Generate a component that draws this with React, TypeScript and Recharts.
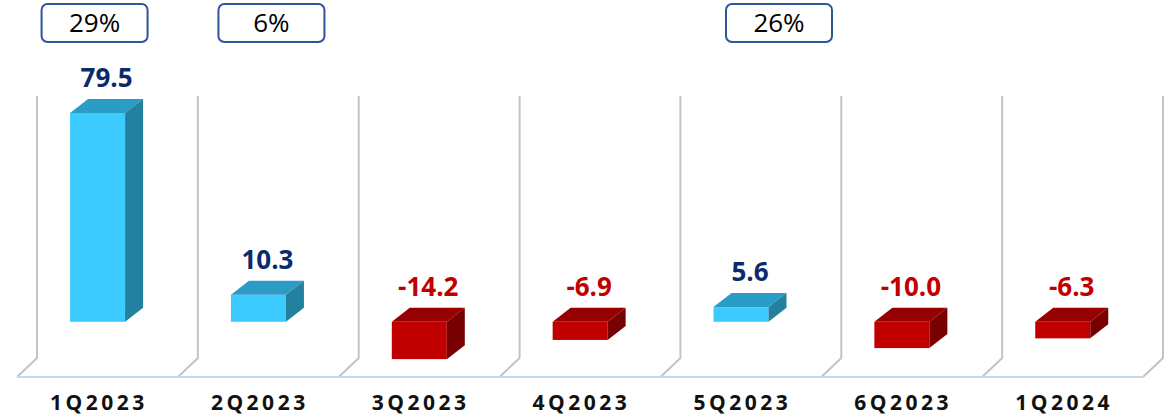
import React from "react";
import { BarChart, Bar, XAxis, YAxis, CartesianGrid, LabelList } from "recharts";

const quarters = ["1Q2023", "2Q2023", "3Q2023", "4Q2023", "5Q2023", "6Q2023", "1Q2024"];
const values = [79.5, 10.3, -14.2, -6.9, 5.6, -10.0, -6.3];
const pctLabels = ["29%", "6%", "", "", "26%", "", ""];

const data = quarters.map((q, i) => ({ quarter: q, value: values[i], pct: pctLabels[i] }));

const DX = 18;
const DY = -14;
const FONT = "'Open Sans', 'Noto Sans', sans-serif";

// hand-placed text boxes in the original slide sit a bit off the bar centres
const boxNudge: Record<number, number> = { 0: -3, 1: 13, 4: 38 };

const Bar3D = (props: any) => {
  const { x, y, width, height, value } = props;
  const top = Math.min(y, y + height);
  const h = Math.abs(height);
  const bottom = top + h;
  const pos = value >= 0;
  const front = pos ? "#3ccbff" : "#c00000";
  const lid = pos ? "#2b9cc6" : "#960000";
  const side = pos ? "#23819f" : "#780000";
  return (
    <g>
      <rect x={x} y={top} width={width} height={h} fill={front} />
      <polygon
        points={`${x},${top} ${x + DX},${top + DY} ${x + width + DX},${top + DY} ${x + width},${top}`}
        fill={lid}
      />
      <polygon
        points={`${x + width},${top} ${x + width + DX},${top + DY} ${x + width + DX},${bottom + DY} ${x + width},${bottom}`}
        fill={side}
      />
    </g>
  );
};

const ValueLabel = (props: any) => {
  const { x, y, width, height, value } = props;
  const top = Math.min(y, y + height);
  return (
    <text
      x={x + width / 2 + DX / 2}
      y={top - 26}
      textAnchor="middle"
      fontFamily={FONT}
      fontWeight={700}
      fontSize={26}
      fill={value >= 0 ? "#0c2a6a" : "#c00000"}
    >
      {Number(value).toFixed(1)}
    </text>
  );
};

const PctBox = (props: any) => {
  const { x, width, value, index } = props;
  if (!value) return null;
  const cx = x + width / 2 + (boxNudge[index] ?? 0);
  return (
    <g>
      <rect x={cx - 53} y={4} width={106} height={38} rx={6} ry={6} fill="#fff" stroke="#2f5597" strokeWidth={2} />
      <text x={cx} y={32} textAnchor="middle" fontFamily={FONT} fontSize={26} fill="#000">
        {value}
      </text>
    </g>
  );
};

const QuarterTick = (props: any) => {
  const { x, y, payload } = props;
  return (
    <text
      x={x + 1.5}
      y={y + 25}
      textAnchor="middle"
      fontFamily={FONT}
      fontWeight={700}
      fontSize={21}
      letterSpacing={3.5}
      fill="#111"
    >
      {payload.value}
    </text>
  );
};

const WallLine = (props: any) => {
  const { x1, y1, y2 } = props;
  return (
    <path
      d={`M${x1 + 20},${y1 + 37} L${x1 + 20},${y2 - 19} L${x1},${y2}`}
      fill="none"
      stroke="#c4c4c4"
      strokeWidth={2}
    />
  );
};

export default function App() {
  return (
    <div style={{ position: "absolute", left: 0, top: 0, background: "#fff" }}>
      <BarChart
        width={1170}
        height={419}
        data={data}
        margin={{ top: 59, right: 27, left: 17, bottom: 0 }}
        barCategoryGap="33%"
      >
        <CartesianGrid
          horizontal={false}
          vertical={WallLine}
          verticalCoordinatesGenerator={({ offset }: any) =>
            Array.from({ length: quarters.length + 1 }, (_, i) => offset.left + (i * offset.width) / quarters.length)
          }
        />
        <XAxis
          dataKey="quarter"
          height={42}
          tickLine={false}
          axisLine={{ stroke: "#c6d9f1", strokeWidth: 2 }}
          tick={QuarterTick}
          interval={0}
        />
        <YAxis hide domain={[-21, 100]} />
        <Bar dataKey="value" shape={Bar3D} isAnimationActive={false}>
          <LabelList dataKey="value" content={ValueLabel} />
          <LabelList dataKey="pct" content={PctBox} />
        </Bar>
      </BarChart>
    </div>
  );
}
